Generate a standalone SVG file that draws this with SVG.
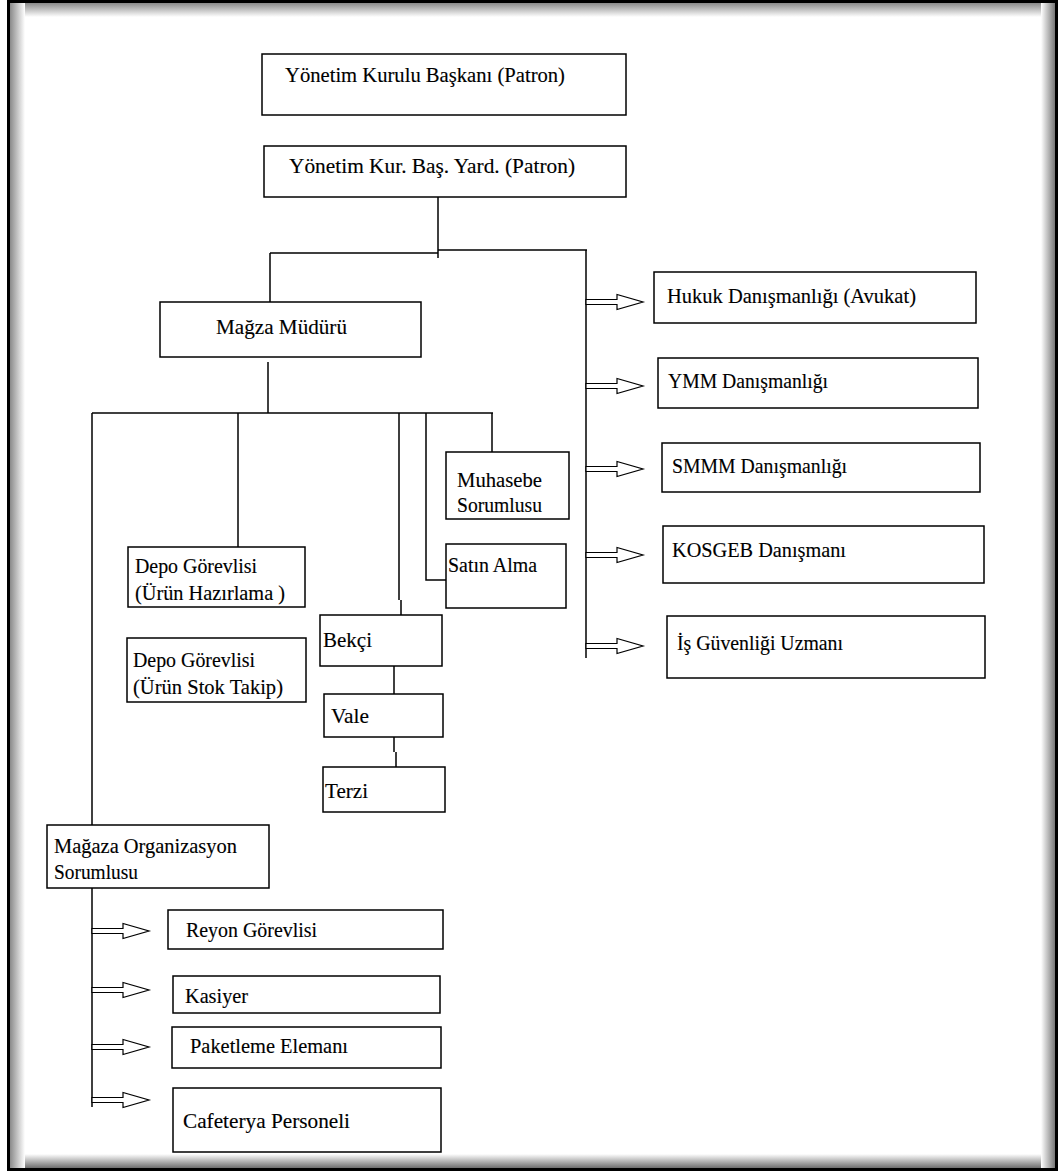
<svg xmlns="http://www.w3.org/2000/svg" width="1063" height="1174" viewBox="0 0 1063 1174" font-family="'Liberation Serif', 'DejaVu Serif', 'Noto Serif', 'Times New Roman', Times, serif">
<style>
.box{fill:#fff;stroke:#000;stroke-width:1.5}
text{font-family:'Liberation Serif', 'DejaVu Serif', 'Noto Serif', 'Times New Roman', Times, serif;font-size:22px;fill:#000;stroke:#000;stroke-width:0.15}
.c{fill:none;stroke:#000;stroke-width:1.5}
.ar{fill:#fff;stroke:#000;stroke-width:1.2}
</style>
<defs>
<linearGradient id="gl" x1="0" y1="0" x2="1" y2="0"><stop offset="0" stop-color="#8a8a8a"/><stop offset="1" stop-color="#fff"/></linearGradient>
<linearGradient id="gr" x1="1" y1="0" x2="0" y2="0"><stop offset="0" stop-color="#6e6e6e"/><stop offset="1" stop-color="#fff"/></linearGradient>
<linearGradient id="gt" x1="0" y1="0" x2="0" y2="1"><stop offset="0" stop-color="#8a8a8a"/><stop offset="1" stop-color="#fff"/></linearGradient>
<linearGradient id="gb" x1="0" y1="1" x2="0" y2="0"><stop offset="0" stop-color="#6e6e6e"/><stop offset="1" stop-color="#fff"/></linearGradient>
<path id="arrow" class="ar" d="M0,-2.5 H31 V-7.5 L57,0 L31,7.5 V2.5 H0 Z"/>
</defs>
<rect x="0" y="0" width="1063" height="1174" fill="#fff"/>
<g id="frame">
<rect x="10" y="3" width="1046" height="14" fill="url(#gt)"/>
<rect x="10" y="1154" width="1046" height="14" fill="url(#gb)"/>
<rect x="10" y="3" width="15" height="1165" fill="url(#gl)"/>
<rect x="1041" y="3" width="15" height="1165" fill="url(#gr)"/>
<rect x="8.5" y="1.5" width="1048" height="1168" fill="none" stroke="#000" stroke-width="3"/>
</g>
<g id="connectors">
<path class="c" d="M438,197 V258"/>
<path class="c" d="M270,253 H438 M438,250 H587"/>
<path class="c" d="M270,253 V302"/>
<path class="c" d="M586,250 V658"/>
<path class="c" d="M268,362 V413"/>
<path class="c" d="M92,413 H493"/>
<path class="c" d="M238,413 V547"/>
<path class="c" d="M399,413 V600 M401,600 V615"/>
<path class="c" d="M426,413 V580 H448"/>
<path class="c" d="M492,413 V452"/>
<path class="c" d="M92,413 V825"/>
<path class="c" d="M92,888 V1107"/>
<path class="c" d="M394,666 V694"/>
<path class="c" d="M394,737 V752 M396,752 V767"/>
<use href="#arrow" x="586" y="302"/>
<use href="#arrow" x="586" y="386"/>
<use href="#arrow" x="586" y="469"/>
<use href="#arrow" x="586" y="555"/>
<use href="#arrow" x="586" y="646"/>
<use href="#arrow" x="92" y="931"/>
<use href="#arrow" x="92" y="990"/>
<use href="#arrow" x="92" y="1047"/>
<use href="#arrow" x="92" y="1100"/>
</g>
<g id="n-baskan"><rect class="box" x="262" y="54" width="364" height="61"/><text x="285" y="82" textLength="280" lengthAdjust="spacingAndGlyphs">Yönetim Kurulu Başkanı (Patron)</text></g>
<g id="n-yardimci"><rect class="box" x="264" y="146" width="362" height="51"/><text x="289" y="173" textLength="286" lengthAdjust="spacingAndGlyphs">Yönetim Kur. Baş. Yard. (Patron)</text></g>
<g id="n-magaza-muduru"><rect class="box" x="160" y="302" width="261" height="55"/><text x="216" y="334" textLength="131" lengthAdjust="spacingAndGlyphs">Mağza Müdürü</text></g>
<g id="n-muhasebe"><rect class="box" x="446" y="452" width="123" height="67"/><text x="457" y="487" textLength="85" lengthAdjust="spacingAndGlyphs">Muhasebe</text><text x="457" y="512" textLength="85" lengthAdjust="spacingAndGlyphs">Sorumlusu</text></g>
<g id="n-satin-alma"><rect class="box" x="446" y="544" width="120" height="64"/><text x="448" y="572" textLength="89" lengthAdjust="spacingAndGlyphs">Satın Alma</text></g>
<g id="n-depo1"><rect class="box" x="128" y="547" width="177" height="60"/><text x="135" y="573" textLength="122" lengthAdjust="spacingAndGlyphs">Depo Görevlisi</text><text x="135" y="600" textLength="150" lengthAdjust="spacingAndGlyphs">(Ürün Hazırlama )</text></g>
<g id="n-depo2"><rect class="box" x="127" y="638" width="179" height="64"/><text x="133" y="667" textLength="122" lengthAdjust="spacingAndGlyphs">Depo Görevlisi</text><text x="133" y="694" textLength="150" lengthAdjust="spacingAndGlyphs">(Ürün Stok Takip)</text></g>
<g id="n-bekci"><rect class="box" x="320" y="615" width="122" height="51"/><text x="323" y="647" textLength="49" lengthAdjust="spacingAndGlyphs">Bekçi</text></g>
<g id="n-vale"><rect class="box" x="324" y="694" width="119" height="43"/><text x="331" y="723" textLength="38" lengthAdjust="spacingAndGlyphs">Vale</text></g>
<g id="n-terzi"><rect class="box" x="323" y="767" width="122" height="45"/><text x="325" y="798" textLength="43" lengthAdjust="spacingAndGlyphs">Terzi</text></g>
<g id="n-organizasyon"><rect class="box" x="47" y="825" width="222" height="63"/><text x="54" y="853" textLength="183" lengthAdjust="spacingAndGlyphs">Mağaza Organizasyon</text><text x="54" y="879" textLength="84" lengthAdjust="spacingAndGlyphs">Sorumlusu</text></g>
<g id="n-reyon"><rect class="box" x="168" y="910" width="275" height="39"/><text x="186" y="937" textLength="131" lengthAdjust="spacingAndGlyphs">Reyon Görevlisi</text></g>
<g id="n-kasiyer"><rect class="box" x="173" y="976" width="267" height="37"/><text x="185" y="1003" textLength="63" lengthAdjust="spacingAndGlyphs">Kasiyer</text></g>
<g id="n-paketleme"><rect class="box" x="172" y="1027" width="269" height="41"/><text x="190" y="1053" textLength="158" lengthAdjust="spacingAndGlyphs">Paketleme Elemanı</text></g>
<g id="n-cafeterya"><rect class="box" x="173" y="1088" width="268" height="64"/><text x="183" y="1128" textLength="167" lengthAdjust="spacingAndGlyphs">Cafeterya Personeli</text></g>
<g id="n-hukuk"><rect class="box" x="654" y="272" width="322" height="51"/><text x="667" y="303" textLength="249" lengthAdjust="spacingAndGlyphs">Hukuk Danışmanlığı (Avukat)</text></g>
<g id="n-ymm"><rect class="box" x="658" y="358" width="320" height="50"/><text x="668" y="388" textLength="160" lengthAdjust="spacingAndGlyphs">YMM Danışmanlığı</text></g>
<g id="n-smmm"><rect class="box" x="662" y="443" width="318" height="49"/><text x="672" y="473" textLength="175" lengthAdjust="spacingAndGlyphs">SMMM Danışmanlığı</text></g>
<g id="n-kosgeb"><rect class="box" x="663" y="526" width="321" height="57"/><text x="672" y="557" textLength="174" lengthAdjust="spacingAndGlyphs">KOSGEB Danışmanı</text></g>
<g id="n-isguvenligi"><rect class="box" x="667" y="616" width="318" height="62"/><text x="677" y="650" textLength="166" lengthAdjust="spacingAndGlyphs">İş Güvenliği Uzmanı</text></g>
</svg>
